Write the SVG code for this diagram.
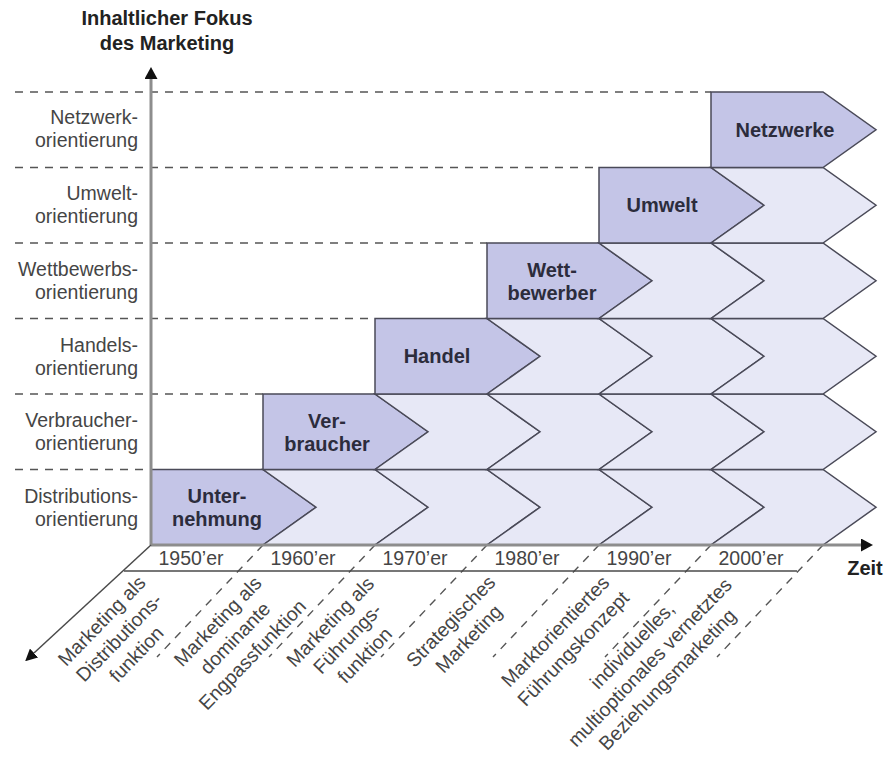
<svg xmlns="http://www.w3.org/2000/svg" width="888" height="758" viewBox="0 0 888 758">
<defs>
<style>
.lbl{font-family:"Liberation Sans",Arial,sans-serif;font-size:19.5px;fill:#454545}
.end{text-anchor:end}
.mid{text-anchor:middle}
.bold{font-family:"Liberation Sans",Arial,sans-serif;font-weight:bold;font-size:20px;fill:#2c2c3c;text-anchor:middle}
.title{font-family:"Liberation Sans",Arial,sans-serif;font-weight:bold;font-size:20px;fill:#222;text-anchor:middle}
.dash{stroke:#555;stroke-width:1.4;stroke-dasharray:8 7;fill:none}
.dark{fill:#c4c5e7;stroke:#4a4a58;stroke-width:1.5}
.light{fill:#e7e8f6;stroke:#4a4a58;stroke-width:1.5}
.axis{stroke:#8d8d8d;stroke-width:3;fill:none}
.thin{stroke:#4a4a4a;stroke-width:1.5;fill:none}
</style>
<path id="chevD" d="M0,0 H112 L165,37.75 L112,75.5 H0 Z"/>
<path id="chevL" d="M0,0 H112 L165,37.75 L112,75.5 H0 L53,37.75 Z"/>
<marker id="ahBig" markerUnits="userSpaceOnUse" markerWidth="12" markerHeight="13" refX="0" refY="6.5" orient="auto" viewBox="0 0 12 13">
<path d="M0,0 L12,6.5 L0,13 Z" fill="#111"/>
</marker>
<marker id="ahSmall" markerUnits="userSpaceOnUse" markerWidth="12" markerHeight="12" refX="0" refY="6" orient="auto" viewBox="0 0 12 12">
<path d="M0,0 L12,6 L0,12 Z" fill="#111"/>
</marker>
</defs>
<rect width="888" height="758" fill="#fff"/>

<g id="title">
<text class="title" x="167" y="25">Inhaltlicher Fokus</text>
<text class="title" x="167" y="50">des Marketing</text>
</g>

<g id="gridlines">
<path class="dash" d="M15,92 H711 M15,167.5 H599 M15,243 H487 M15,318.5 H375 M15,394 H263 M15,469.5 H151"/>
</g>

<g id="ylabels">
<text class="lbl end" x="138" y="124">Netzwerk-</text>
<text class="lbl end" x="138" y="147">orientierung</text>
<text class="lbl end" x="138" y="199.5">Umwelt-</text>
<text class="lbl end" x="138" y="222.5">orientierung</text>
<text class="lbl end" x="138" y="276">Wettbewerbs-</text>
<text class="lbl end" x="138" y="299">orientierung</text>
<text class="lbl end" x="138" y="351.5">Handels-</text>
<text class="lbl end" x="138" y="374.5">orientierung</text>
<text class="lbl end" x="138" y="427">Verbraucher-</text>
<text class="lbl end" x="138" y="450">orientierung</text>
<text class="lbl end" x="138" y="502.5">Distributions-</text>
<text class="lbl end" x="138" y="525.5">orientierung</text>
</g>

<g id="row-distribution">
<use href="#chevD" class="dark" x="151" y="469.5"/>
<use href="#chevL" class="light" x="263" y="469.5"/>
<use href="#chevL" class="light" x="375" y="469.5"/>
<use href="#chevL" class="light" x="487" y="469.5"/>
<use href="#chevL" class="light" x="599" y="469.5"/>
<use href="#chevL" class="light" x="711" y="469.5"/>
<text class="bold" x="217" y="503">Unter-</text>
<text class="bold" x="217" y="526">nehmung</text>
</g>

<g id="row-verbraucher">
<use href="#chevD" class="dark" x="263" y="394"/>
<use href="#chevL" class="light" x="375" y="394"/>
<use href="#chevL" class="light" x="487" y="394"/>
<use href="#chevL" class="light" x="599" y="394"/>
<use href="#chevL" class="light" x="711" y="394"/>
<text class="bold" x="327" y="428">Ver-</text>
<text class="bold" x="327" y="451">braucher</text>
</g>

<g id="row-handel">
<use href="#chevD" class="dark" x="375" y="318.5"/>
<use href="#chevL" class="light" x="487" y="318.5"/>
<use href="#chevL" class="light" x="599" y="318.5"/>
<use href="#chevL" class="light" x="711" y="318.5"/>
<text class="bold" x="437" y="363">Handel</text>
</g>

<g id="row-wettbewerber">
<use href="#chevD" class="dark" x="487" y="243"/>
<use href="#chevL" class="light" x="599" y="243"/>
<use href="#chevL" class="light" x="711" y="243"/>
<text class="bold" x="552" y="277">Wett-</text>
<text class="bold" x="552" y="300">bewerber</text>
</g>

<g id="row-umwelt">
<use href="#chevD" class="dark" x="599" y="167.5"/>
<use href="#chevL" class="light" x="711" y="167.5"/>
<text class="bold" x="662" y="212">Umwelt</text>
</g>

<g id="row-netzwerke">
<use href="#chevD" class="dark" x="711" y="92"/>
<text class="bold" x="785" y="137">Netzwerke</text>
</g>

<g id="connectors">
<path class="dash" d="M263,545 L157,657 M375,545 L269,657 M487,545 L381,657 M599,545 L493,657 M711,545 L605,657 M823,545 L717,657"/>
<path class="thin" d="M124,571 H797"/>
<path class="axis" d="M151,545 V79" marker-end="url(#ahBig)"/>
<path class="axis" d="M151,545 H861" marker-end="url(#ahBig)"/>
<path class="thin" d="M151,545 L34,653" marker-end="url(#ahSmall)"/>
</g>

<g id="xlabels">
<text class="lbl mid" x="191" y="565">1950’er</text>
<text class="lbl mid" x="303" y="565">1960’er</text>
<text class="lbl mid" x="415" y="565">1970’er</text>
<text class="lbl mid" x="527" y="565">1980’er</text>
<text class="lbl mid" x="639" y="565">1990’er</text>
<text class="lbl mid" x="751" y="565">2000’er</text>
<text class="title" x="865" y="575">Zeit</text>
</g>

<g id="zlabels">
<g transform="translate(106.6,625.5) rotate(-46)">
<text class="lbl mid" y="0">Marketing als</text>
<text class="lbl mid" y="24">Distributions-</text>
<text class="lbl mid" y="48">funktion</text>
</g>
<g transform="translate(222.6,626) rotate(-46)">
<text class="lbl mid" y="0">Marketing als</text>
<text class="lbl mid" y="24">dominante</text>
<text class="lbl mid" y="48">Engpassfunktion</text>
</g>
<g transform="translate(335,626.5) rotate(-46)">
<text class="lbl mid" y="0">Marketing als</text>
<text class="lbl mid" y="24">Führungs-</text>
<text class="lbl mid" y="48">funktion</text>
</g>
<g transform="translate(455.6,626) rotate(-46)">
<text class="lbl mid" y="0">Strategisches</text>
<text class="lbl mid" y="25">Marketing</text>
</g>
<g transform="translate(560,636) rotate(-46)">
<text class="lbl mid" y="0">Marktorientiertes</text>
<text class="lbl mid" y="25">Führungskonzept</text>
</g>
<g transform="translate(637,650) rotate(-46)">
<text class="lbl mid" y="0">individuelles,</text>
<text class="lbl mid" y="24.5">multioptionales vernetztes</text>
<text class="lbl mid" y="49">Beziehungsmarketing</text>
</g>
</g>
</svg>
